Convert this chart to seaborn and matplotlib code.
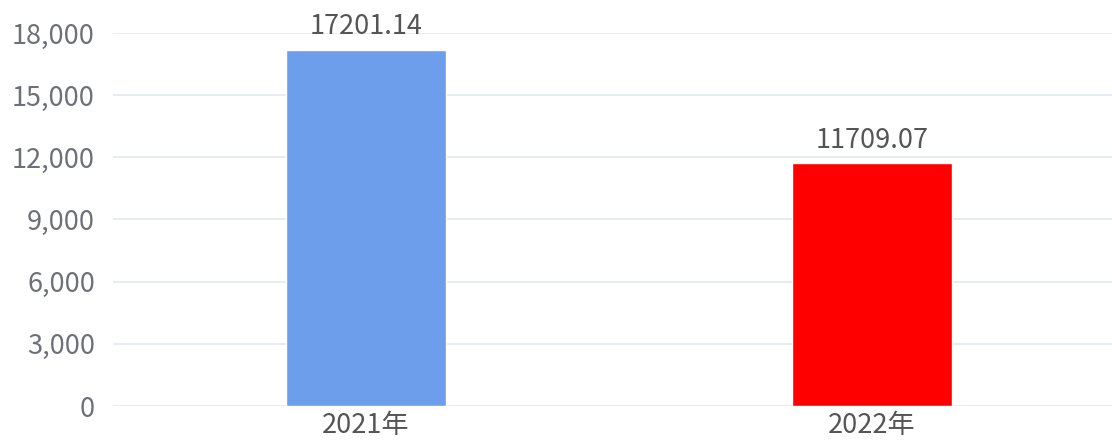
import matplotlib
matplotlib.use("Agg")
import matplotlib.pyplot as plt
import seaborn as sns
import pandas as pd
from matplotlib.ticker import FuncFormatter

categories = ["2021年", "2022年"]
values = [17201.14, 11709.07]
bar_colors = ["#6C9EEB", "#FF0000"]
y_ticks = [0, 3000, 6000, 9000, 12000, 15000, 18000]

sns.set_theme(style="white")
plt.rcParams['font.family'] = ['Noto Sans CJK SC', 'DejaVu Sans']

df = pd.DataFrame({"year": categories, "value": values})

fig = plt.figure(figsize=(11.12, 4.4), dpi=100)
ax = fig.add_axes([113/1112, 34/440, 1012/1112, 373/440])

sns.barplot(data=df, x="year", y="value", hue="year", palette=bar_colors,
            width=0.316, saturation=1, legend=False, ax=ax, zorder=3)

ax.set_ylim(0, 18000)
ax.set_xlim(-0.5, 1.5)
ax.set_yticks(y_ticks)
ax.yaxis.set_major_formatter(FuncFormatter(lambda v, p: f"{int(v):,}"))
ax.grid(axis="y", color="#E0E6F1", linewidth=1.1, zorder=0)
ax.set_axisbelow(True)
for s in ax.spines.values():
    s.set_visible(False)
ax.set_xlabel("")
ax.set_ylabel("")
ax.tick_params(axis="y", length=0, pad=13, labelsize=19.5, labelcolor="#6E7079")
ax.tick_params(axis="x", length=0, pad=4, labelsize=19.5, labelcolor="#555555")

for i, v in enumerate(values):
    ax.annotate(f"{v:.2f}", xy=(i, v), xytext=(0, 11), textcoords="offset points",
                ha="center", va="baseline", fontsize=19.5, color="#555555")

fig.savefig("out.png", dpi=100)
